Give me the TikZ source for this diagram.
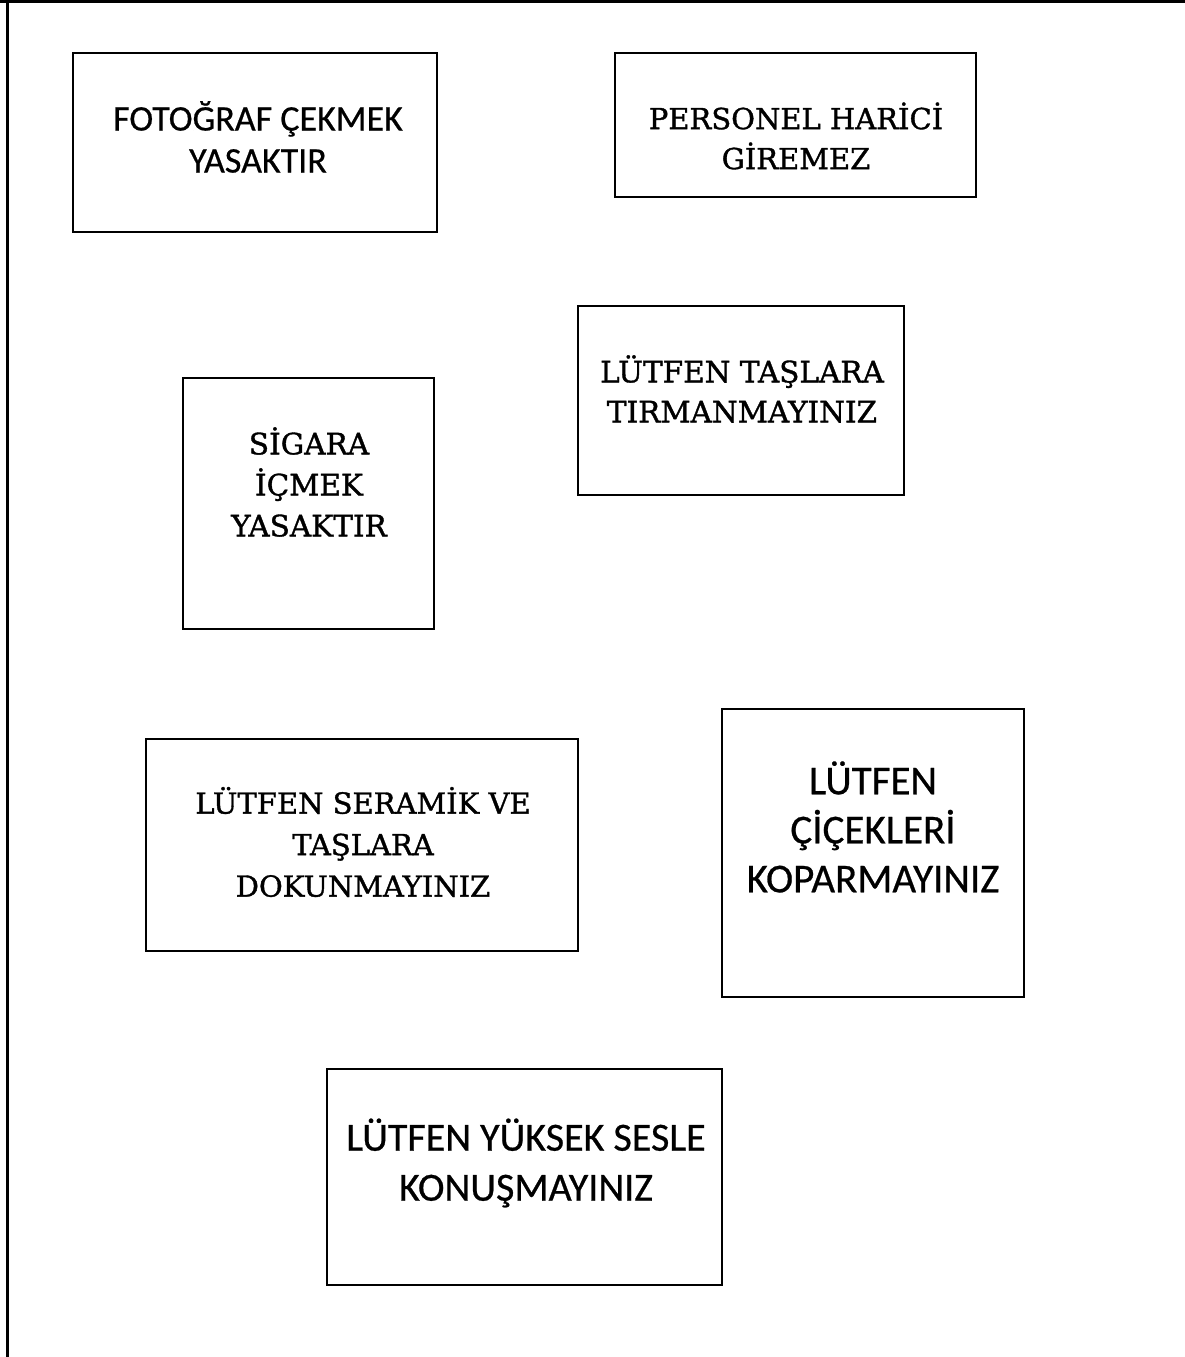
\documentclass[tikz,border=0pt]{standalone}
\usepackage{fontspec}
\newfontfamily\sansf[FakeBold=0.6]{Carlito}
\newfontfamily\serff[FakeBold=1.2]{DejaVu Serif}
\begin{document}
\begin{tikzpicture}[x=1pt,y=-1pt,
  box/.style={draw, line width=1.8pt, inner sep=0pt, rectangle},
  sanslbl/.style={align=center, inner sep=0pt, font=\sansf\fontsize{36}{42}\selectfont},
  seriflbl/.style={align=center, inner sep=0pt, font=\serff\fontsize{29.5}{40}\selectfont}]
\useasboundingbox (0,0) rectangle (1185,1357);
\draw[line width=3pt] (0,1.5) -- (1185,1.5);
\draw[line width=3pt] (7,0) -- (7,1357);
% boxes
\node[box, minimum width=364pt, minimum height=179pt] (b1) at (255,142.5) {};
\node[box, minimum width=361pt, minimum height=144pt] (b2) at (795.5,125) {};
\node[box, minimum width=326pt, minimum height=189pt] (b3) at (741,400.5) {};
\node[box, minimum width=251pt, minimum height=251pt] (b4) at (308.5,503.5) {};
\node[box, minimum width=432pt, minimum height=212pt] (b5) at (362,845) {};
\node[box, minimum width=302pt, minimum height=288pt] (b6) at (873,853) {};
\node[box, minimum width=395pt, minimum height=216pt] (b7) at (524.5,1177) {};
% labels
\node[sanslbl] (t1) at (258,137) {FOTOĞRAF ÇEKMEK\\YASAKTIR};
\node[seriflbl, font=\serff\fontsize{29}{40}\selectfont] (t2) at (796,136) {PERSONEL HARİCİ\\GİREMEZ};
\node[seriflbl] (t3) at (742,389) {LÜTFEN TAŞLARA\\TIRMANMAYINIZ};
\node[seriflbl, font=\serff\fontsize{29.5}{41}\selectfont] (t4) at (309,482) {SİGARA\\İÇMEK\\YASAKTIR};
\node[seriflbl, font=\serff\fontsize{29}{41.5}\selectfont] (t5) at (363,842) {LÜTFEN SERAMİK VE\\TAŞLARA\\DOKUNMAYINIZ};
\node[sanslbl, font=\sansf\fontsize{41}{49}\selectfont] (t6) at (873,827) {LÜTFEN\\ÇİÇEKLERİ\\KOPARMAYINIZ};
\node[sanslbl, font=\sansf\fontsize{40}{50}\selectfont] (t7) at (526,1163) {LÜTFEN YÜKSEK SESLE\\KONUŞMAYINIZ};
\end{tikzpicture}
\end{document}
